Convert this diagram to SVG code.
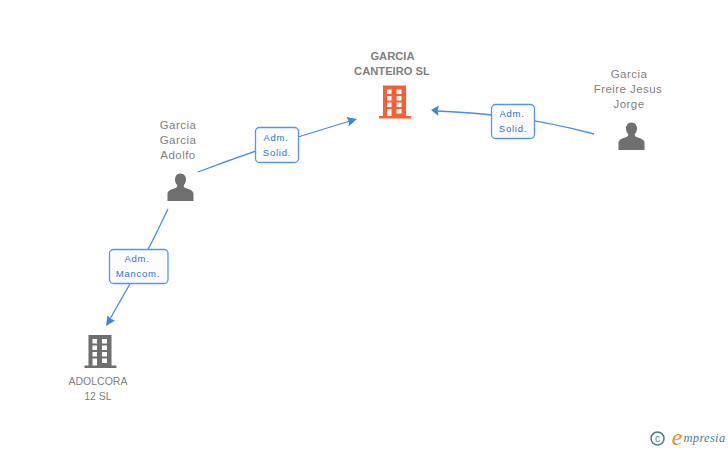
<svg xmlns="http://www.w3.org/2000/svg" width="728" height="450" viewBox="0 0 728 450">
<style>
text{font-family:"Liberation Sans",Arial,sans-serif;text-anchor:middle}
.n{font-size:11.5px;fill:#7f7f7f;letter-spacing:.45px}
.u{font-size:10.5px;fill:#7f7f7f;letter-spacing:0}
.b{font-size:11.2px;fill:#7f7f7f;font-weight:bold}
.l{font-size:9.5px;fill:#2f72d8;letter-spacing:.75px}
.c{fill:none;stroke:#4a8ae8;stroke-width:1.3}
.a{fill:#3f83e6}
.box{fill:#fcfcfc;stroke:#5b94e6;stroke-width:1.3}
.p{fill:#6f6f6f}
</style>
<defs>
<g id="person"><path d="M0-14.500c-3.500 0-5.500 2.800-5.500 6 0 2.400 1 4.500 2.300 5.800 0 1.300-.3 2-1.300 2.500-3 1.300-8.500 2.200-8.500 6V13H13V5.800c0-3.800-5.500-4.700-8.500-6-1-.5-1.300-1.200-1.300-2.500C4.500-4 5.500-6.100 5.500-8.500c0-3.200-2-6-5.500-6z" class="p" transform="translate(0 1)"/></g>
<g id="bld"><path fill-rule="evenodd" d="M-12-17H11V13.500H16V16H-16V13.500H-12ZM-8-13V-8.500H-3.500V-13ZM1.500-13V-8.500H6.500V-13ZM-8-6.500V-2H-3.500V-6.500ZM1.500-6.500V-2H6.500V-6.500ZM-8 0V4.500H-3.500V0ZM1.500 0V4.500H6.500V0ZM-8 6.500V13.500H-3.500V6.500ZM1.500 6.500V11H6.500V6.500Z"/></g>
</defs>
<g id="connectors">
<path class="c" d="M198 172Q275 143 350 121"/>
<polygon class="a" points="357,119 346.500,117 349,121.500 348.500,126.500"/>
<path class="c" d="M594 134Q520 114 437 111"/>
<polygon class="a" points="431,110 439,105.500 437.500,110.500 438.500,116"/>
<path class="c" d="M168 209Q140 268 110 319"/>
<polygon class="a" points="106,326 107.500,315.500 111,319 115,320.500"/>
</g>
<g id="node-garcia-canteiro"><text class="b" x="392.500" y="60">GARCIA</text><text class="b" x="392" y="75">CANTEIRO SL</text><use href="#bld" x="395" y="102.500" fill="#f95f35"/></g>
<g id="node-garcia-adolfo"><text class="n" x="178" y="129">Garcia</text><text class="n" x="178" y="144">Garcia</text><text class="n" x="178" y="159">Adolfo</text><use href="#person" x="180.500" y="187"/></g>
<g id="node-freire"><text class="n" x="629" y="78">Garcia</text><text class="n" x="628" y="93">Freire Jesus</text><text class="n" x="629" y="108">Jorge</text><use href="#person" x="631.500" y="136"/></g>
<g id="node-adolcora"><use href="#bld" x="100.500" y="352" fill="#6f6f6f"/><text class="u" x="98" y="385">ADOLCORA</text><text class="u" x="98" y="400">12 SL</text></g>
<g id="label-1"><rect class="box" x="255.500" y="127.500" width="43" height="35" rx="4"/><text class="l" x="276" y="141">Adm.</text><text class="l" x="277" y="156">Solid.</text></g>
<g id="label-2"><rect class="box" x="491.500" y="104.500" width="43" height="34" rx="4"/><text class="l" x="512" y="117">Adm.</text><text class="l" x="513" y="132">Solid.</text></g>
<g id="label-3"><rect class="box" x="109.500" y="249.500" width="58.500" height="34" rx="4"/><text class="l" x="137" y="262">Adm.</text><text class="l" x="138" y="277">Mancom.</text></g>
<g id="logo"><circle cx="657.500" cy="438.500" r="6.500" fill="none" stroke="#4a8095" stroke-width="1.500"/><text x="657.500" y="442" style="font-size:10px;fill:#4a8095">c</text><text x="677" y="445" style="font-size:24px;fill:#ef8a1c;font-family:'Liberation Serif',serif;font-style:italic">e</text><text x="704.500" y="442" style="font-size:12.500px;fill:#4a8095;font-family:'Liberation Serif',serif;font-style:italic;letter-spacing:.3px">mpresia</text></g>
</svg>
